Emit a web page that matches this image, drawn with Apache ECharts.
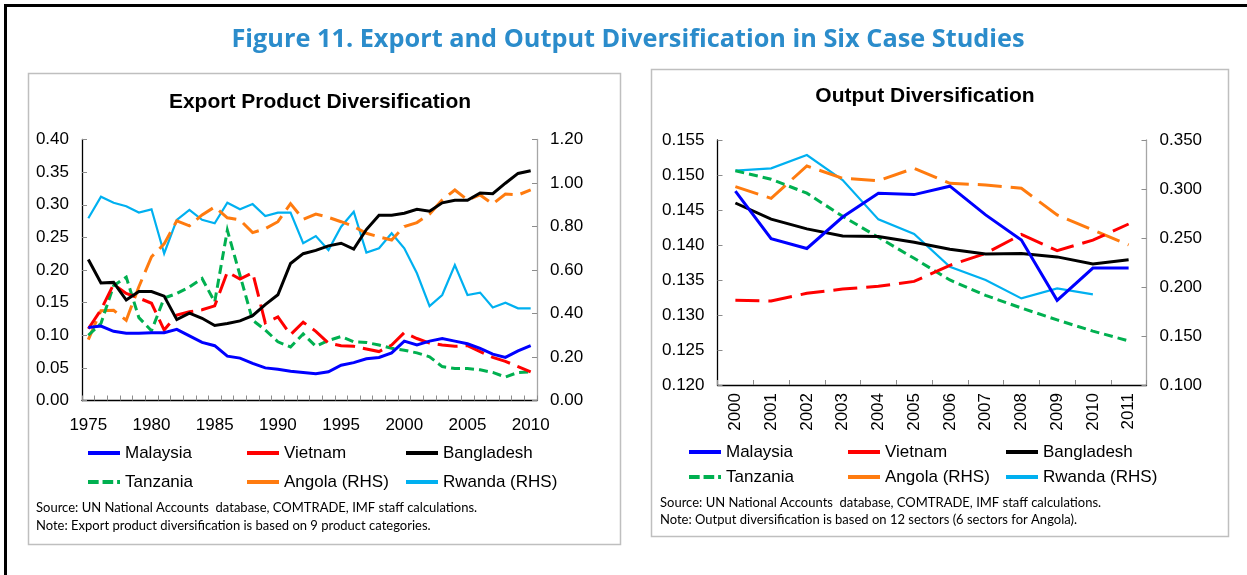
<!DOCTYPE html>
<html>
<head>
<meta charset="utf-8">
<script src="https://cdn.jsdelivr.net/npm/echarts@6/dist/echarts.min.js"></script>
<style>
  html, body { margin: 0; padding: 0; background: #fff; }
  #chart { width: 1247px; height: 575px; }
</style>
</head>
<body>
<div id="chart"></div>
<script>
// left panel: export product diversification, 1975-2010
const years1 = ['1975', '1976', '1977', '1978', '1979', '1980', '1981', '1982', '1983', '1984',
  '1985', '1986', '1987', '1988', '1989', '1990', '1991', '1992', '1993', '1994',
  '1995', '1996', '1997', '1998', '1999', '2000', '2001', '2002', '2003', '2004',
  '2005', '2006', '2007', '2008', '2009', '2010'];
const malaysia1 = [0.112, 0.114, 0.106, 0.103, 0.103, 0.104, 0.104, 0.109, 0.099, 0.089, 0.084,
  0.068, 0.065, 0.057, 0.050, 0.048, 0.045, 0.043, 0.041, 0.044, 0.054,
  0.058, 0.064, 0.066, 0.073, 0.091, 0.085, 0.091, 0.095, 0.091, 0.087,
  0.080, 0.071, 0.066, 0.076, 0.084];
const vietnam1 = [0.110, 0.139, 0.178, 0.164, 0.157, 0.149, 0.108, 0.131, 0.136, 0.139, 0.145,
  0.197, 0.186, 0.196, 0.119, 0.128, 0.101, 0.120, 0.106, 0.088, 0.084,
  0.083, 0.079, 0.075, 0.085, 0.104, 0.095, 0.088, 0.085, 0.083, 0.084,
  0.075, 0.066, 0.060, 0.052, 0.044];
const bangladesh1 = [0.216, 0.180, 0.181, 0.154, 0.167, 0.167, 0.160, 0.124, 0.134, 0.126, 0.115,
  0.118, 0.122, 0.130, 0.147, 0.162, 0.210, 0.225, 0.230, 0.237, 0.241,
  0.232, 0.262, 0.284, 0.284, 0.287, 0.293, 0.290, 0.303, 0.307, 0.307,
  0.318, 0.317, 0.333, 0.348, 0.352];
const tanzania1 = [0.100, 0.118, 0.176, 0.189, 0.127, 0.107, 0.157, 0.164, 0.174, 0.187, 0.151,
  0.261, 0.192, 0.123, 0.108, 0.090, 0.082, 0.102, 0.083, 0.092, 0.098,
  0.090, 0.089, 0.085, 0.080, 0.077, 0.073, 0.067, 0.052, 0.049, 0.049,
  0.047, 0.043, 0.036, 0.043, 0.044];
const angola1 = [0.280, 0.413, 0.415, 0.369, 0.523, 0.661, 0.720, 0.826, 0.803, 0.853, 0.890,
  0.840, 0.830, 0.772, 0.790, 0.822, 0.905, 0.833, 0.857, 0.842, 0.822,
  0.800, 0.769, 0.752, 0.738, 0.800, 0.818, 0.857, 0.922, 0.968, 0.922,
  0.945, 0.904, 0.949, 0.945, 0.968];
const rwanda1 = [0.838, 0.937, 0.909, 0.893, 0.864, 0.879, 0.676, 0.830, 0.876, 0.831, 0.815,
  0.909, 0.879, 0.903, 0.848, 0.864, 0.864, 0.723, 0.756, 0.692, 0.799,
  0.868, 0.680, 0.700, 0.769, 0.700, 0.585, 0.434, 0.485, 0.623, 0.485,
  0.496, 0.428, 0.450, 0.424, 0.424];

// right panel: output diversification, 2000-2011
const years2 = ['2000', '2001', '2002', '2003', '2004', '2005', '2006', '2007', '2008', '2009', '2010', '2011'];
const malaysia2 = [0.1477, 0.1409, 0.1395, 0.1440, 0.1474, 0.1472, 0.1484, 0.1443, 0.1407, 0.1321, 0.1367, 0.1367];
const vietnam2 = [0.1321, 0.1320, 0.1331, 0.1337, 0.1341, 0.1348, 0.1371, 0.1388, 0.1415, 0.1392, 0.1407, 0.1430];
const bangladesh2 = [0.1460, 0.1437, 0.1423, 0.1413, 0.1412, 0.1404, 0.1394, 0.1387, 0.1388, 0.1383, 0.1373, 0.1379];
const tanzania2 = [0.1506, 0.1494, 0.1474, 0.1441, 0.1411, 0.1381, 0.1350, 0.1328, 0.1310, 0.1293, 0.1277, 0.1263];
const angola2 = [0.3024, 0.2905, 0.3235, 0.3109, 0.3085, 0.3211, 0.3058, 0.3041, 0.3007, 0.2735, 0.2582, 0.2429];
const rwanda2 = [0.3187, 0.3211, 0.3347, 0.3092, 0.2690, 0.2541, 0.2207, 0.2071, 0.1884, 0.1986, 0.1925, null];

const COLORS = {
  Malaysia: '#0000FF',
  Vietnam: '#FF0000',
  Bangladesh: '#000000',
  Tanzania: '#00B050',
  'Angola (RHS)': '#FF7B0F',
  'Rwanda (RHS)': '#00B0F0',
};

const AXIS_FONT = 'Liberation Sans, Arial, sans-serif';
const NOTE_FONT = 'Lato, Carlito, sans-serif';
// legend sample: two dashes and a dot, like the source chart
const DASH_ICON = 'path://M0,0h11v4h-11z M15,0h11v4h-11z M30,0h3v4h-3z';

const chart = echarts.init(document.getElementById('chart'));

function lineSeries(name, data, idx, width, dash) {
  return {
    name,
    type: 'line',
    xAxisIndex: idx,
    yAxisIndex: name.includes('RHS') ? idx * 2 + 1 : idx * 2,
    data,
    symbol: 'none',
    connectNulls: false,
    animation: false,
    lineStyle: { color: COLORS[name], width, type: dash || 'solid', cap: 'butt', join: 'miter' },
    itemStyle: { color: COLORS[name] },
  };
}

function valueAxis(gridIndex, pos, min, max, interval, digits, lineColor) {
  return {
    type: 'value',
    gridIndex,
    position: pos,
    min,
    max,
    interval,
    splitLine: { show: false },
    axisLine: { show: true, lineStyle: { color: lineColor, width: 1.3 } },
    axisTick: { show: true, inside: true, length: 5, lineStyle: { color: '#8c8c8c' } },
    axisLabel: {
      margin: 13,
      color: '#000',
      fontSize: 17,
      fontFamily: AXIS_FONT,
      formatter: (v) => v.toFixed(digits),
    },
  };
}

function legendColumn(left, top, names, gap) {
  return {
    orient: 'vertical',
    left,
    top,
    padding: 0,
    itemWidth: 32,
    itemHeight: 4,
    itemGap: gap,
    selectedMode: false,
    textStyle: { fontSize: 17, fontFamily: AXIS_FONT, color: '#000', lineHeight: 20 },
    data: names.map((n) => ({
      name: n,
      icon: n === 'Tanzania' ? DASH_ICON : 'rect',
    })),
  };
}

function txt(x, y, text, font, color, align) {
  return {
    type: 'text',
    x,
    y,
    silent: true,
    style: { text, font, fill: color || '#000', align: align || 'left', verticalAlign: 'middle' },
  };
}

chart.setOption({
  backgroundColor: '#fff',
  animation: false,
  grid: [
    { left: 82, top: 139.5, width: 455, height: 261 },
    { left: 717.5, top: 140, width: 429, height: 245 },
  ],
  xAxis: [
    {
      type: 'category',
      gridIndex: 0,
      data: years1,
      boundaryGap: true,
      axisLine: { lineStyle: { color: '#000', width: 1.3 } },
      axisTick: { show: true, inside: true, interval: 0, length: 5, lineStyle: { color: '#8c8c8c' } },
      axisLabel: { interval: 4, margin: 16, color: '#000', fontSize: 17, fontFamily: AXIS_FONT },
    },
    {
      type: 'category',
      gridIndex: 1,
      data: years2,
      boundaryGap: true,
      axisLine: { lineStyle: { color: '#000', width: 1.3 } },
      axisTick: { show: true, inside: true, interval: 0, length: 5, lineStyle: { color: '#8c8c8c' } },
      axisLabel: { interval: 0, rotate: 90, margin: 8, color: '#000', fontSize: 17, fontFamily: AXIS_FONT },
    },
  ],
  yAxis: [
    valueAxis(0, 'left', 0, 0.4, 0.05, 2, '#000'),
    valueAxis(0, 'right', 0, 1.2, 0.2, 2, '#a6a6a6'),
    valueAxis(1, 'left', 0.12, 0.155, 0.005, 3, '#000'),
    valueAxis(1, 'right', 0.1, 0.35, 0.05, 3, '#a6a6a6'),
  ],
  legend: [
    legendColumn(88, 443, ['Malaysia', 'Tanzania'], 9),
    legendColumn(247, 443, ['Vietnam', 'Angola (RHS)'], 9),
    legendColumn(406, 443, ['Bangladesh', 'Rwanda (RHS)'], 9),
    legendColumn(689, 442, ['Malaysia', 'Tanzania'], 5),
    legendColumn(848, 442, ['Vietnam', 'Angola (RHS)'], 5),
    legendColumn(1006, 442, ['Bangladesh', 'Rwanda (RHS)'], 5),
  ],
  series: [
    lineSeries('Rwanda (RHS)', rwanda1, 0, 2.2),
    lineSeries('Angola (RHS)', angola1, 0, 3, [20, 8]),
    lineSeries('Tanzania', tanzania1, 0, 3, [9, 5]),
    lineSeries('Vietnam', vietnam1, 0, 3, [20, 8]),
    lineSeries('Bangladesh', bangladesh1, 0, 3),
    lineSeries('Malaysia', malaysia1, 0, 3),

    lineSeries('Rwanda (RHS)', rwanda2, 1, 2.2),
    lineSeries('Angola (RHS)', angola2, 1, 3, [24, 9]),
    lineSeries('Tanzania', tanzania2, 1, 3, [9, 5]),
    lineSeries('Vietnam', vietnam2, 1, 3, [24, 9]),
    lineSeries('Bangladesh', bangladesh2, 1, 3),
    lineSeries('Malaysia', malaysia2, 1, 3),
  ],
  graphic: [
    {
      type: 'rect',
      silent: true,
      shape: { x: 5.5, y: 5.5, width: 1300, height: 620 },
      style: { fill: 'none', stroke: '#000', lineWidth: 3 },
    },
    {
      type: 'rect',
      silent: true,
      shape: { x: 28.5, y: 73.5, width: 592, height: 471 },
      style: { fill: 'none', stroke: '#bfbfbf', lineWidth: 1.5 },
    },
    {
      type: 'rect',
      silent: true,
      shape: { x: 651.5, y: 69.5, width: 577, height: 467 },
      style: { fill: 'none', stroke: '#bfbfbf', lineWidth: 1.5 },
    },
    txt(628, 40, 'Figure 11. Export and Output Diversification in Six Case Studies', 'bold 25.3px "Open Sans", sans-serif', '#2B8CCB', 'center'),
    txt(320, 102, 'Export Product Diversification', 'bold 21px ' + AXIS_FONT, '#000', 'center'),
    txt(925, 96, 'Output Diversification', 'bold 21px ' + AXIS_FONT, '#000', 'center'),
    txt(36, 508, 'Source: UN National Accounts  database, COMTRADE, IMF staff calculations.', '13px ' + NOTE_FONT),
    txt(36, 526, 'Note: Export product diversification is based on 9 product categories.', '13px ' + NOTE_FONT),
    txt(660, 503, 'Source: UN National Accounts  database, COMTRADE, IMF staff calculations.', '13px ' + NOTE_FONT),
    txt(660, 520, 'Note: Output diversification is based on 12 sectors (6 sectors for Angola).', '13px ' + NOTE_FONT),
  ],
});

window.addEventListener('resize', () => chart.resize());
</script>
</body>
</html>
